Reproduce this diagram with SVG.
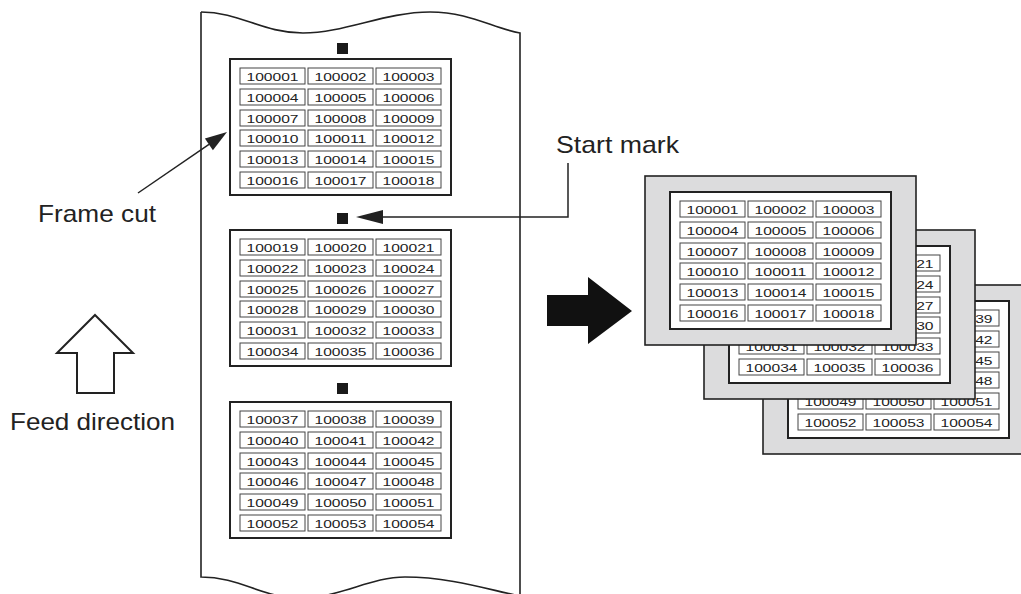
<svg xmlns="http://www.w3.org/2000/svg" xmlns:xlink="http://www.w3.org/1999/xlink" width="1021" height="594" viewBox="0 0 1021 594">
<style>
.edge{fill:none;stroke:#222;stroke-width:1.6}
.frame{fill:#fff;stroke:#222;stroke-width:2}
.sheet{fill:#dcdcdd;stroke:#222;stroke-width:1.6}
.cell{fill:#fff;stroke:#444;stroke-width:1}
.num{font-family:"Liberation Sans",Arial,sans-serif;font-size:11.5px;fill:#222;text-anchor:middle}
.lbl{font-family:"Liberation Sans",Arial,sans-serif;font-size:24px;fill:#222}
.mark{fill:#1a1a1a}
.line{fill:none;stroke:#222;stroke-width:1.5}
</style>
<defs>
<rect id="c" width="65" height="16" class="cell"/>
</defs>
<rect width="1021" height="594" fill="#fff"/>
<g id="paper">
<path d="M201,12 C240,12 262,33 303,33 C345,33 385,12 430,12 C470,12 492,28 520,33 L520,594" fill="none" class="edge"/>
<path d="M201,12 L201,577 C240,577 262,598 300,598 C340,598 370,577 405,577 C450,577 490,590 520,596" class="edge"/>
</g>
<g id="marks">
<rect class="mark" x="337" y="43" width="11" height="11"/>
<rect class="mark" x="337" y="213" width="11" height="11"/>
<rect class="mark" x="337" y="383" width="11" height="11"/>
</g>
<g id="frame1" transform="translate(230,59)">
<rect class="frame" width="221" height="136"/>
<use href="#c" x="10" y="9"/><use href="#c" x="78" y="9"/><use href="#c" x="146" y="9"/>
<use href="#c" x="10" y="30"/><use href="#c" x="78" y="30"/><use href="#c" x="146" y="30"/>
<use href="#c" x="10" y="51"/><use href="#c" x="78" y="51"/><use href="#c" x="146" y="51"/>
<use href="#c" x="10" y="71"/><use href="#c" x="78" y="71"/><use href="#c" x="146" y="71"/>
<use href="#c" x="10" y="92"/><use href="#c" x="78" y="92"/><use href="#c" x="146" y="92"/>
<use href="#c" x="10" y="113"/><use href="#c" x="78" y="113"/><use href="#c" x="146" y="113"/>
<text class="num" x="42.5" y="21.5" textLength="52" lengthAdjust="spacingAndGlyphs">100001</text><text class="num" x="110.5" y="21.5" textLength="52" lengthAdjust="spacingAndGlyphs">100002</text><text class="num" x="178.5" y="21.5" textLength="52" lengthAdjust="spacingAndGlyphs">100003</text>
<text class="num" x="42.5" y="42.5" textLength="52" lengthAdjust="spacingAndGlyphs">100004</text><text class="num" x="110.5" y="42.5" textLength="52" lengthAdjust="spacingAndGlyphs">100005</text><text class="num" x="178.5" y="42.5" textLength="52" lengthAdjust="spacingAndGlyphs">100006</text>
<text class="num" x="42.5" y="63.5" textLength="52" lengthAdjust="spacingAndGlyphs">100007</text><text class="num" x="110.5" y="63.5" textLength="52" lengthAdjust="spacingAndGlyphs">100008</text><text class="num" x="178.5" y="63.5" textLength="52" lengthAdjust="spacingAndGlyphs">100009</text>
<text class="num" x="42.5" y="83.5" textLength="52" lengthAdjust="spacingAndGlyphs">100010</text><text class="num" x="110.5" y="83.5" textLength="52" lengthAdjust="spacingAndGlyphs">100011</text><text class="num" x="178.5" y="83.5" textLength="52" lengthAdjust="spacingAndGlyphs">100012</text>
<text class="num" x="42.5" y="104.5" textLength="52" lengthAdjust="spacingAndGlyphs">100013</text><text class="num" x="110.5" y="104.5" textLength="52" lengthAdjust="spacingAndGlyphs">100014</text><text class="num" x="178.5" y="104.5" textLength="52" lengthAdjust="spacingAndGlyphs">100015</text>
<text class="num" x="42.5" y="125.5" textLength="52" lengthAdjust="spacingAndGlyphs">100016</text><text class="num" x="110.5" y="125.5" textLength="52" lengthAdjust="spacingAndGlyphs">100017</text><text class="num" x="178.5" y="125.5" textLength="52" lengthAdjust="spacingAndGlyphs">100018</text>
</g>
<g id="frame2" transform="translate(230,230)">
<rect class="frame" width="221" height="136"/>
<use href="#c" x="10" y="9"/><use href="#c" x="78" y="9"/><use href="#c" x="146" y="9"/>
<use href="#c" x="10" y="30"/><use href="#c" x="78" y="30"/><use href="#c" x="146" y="30"/>
<use href="#c" x="10" y="51"/><use href="#c" x="78" y="51"/><use href="#c" x="146" y="51"/>
<use href="#c" x="10" y="71"/><use href="#c" x="78" y="71"/><use href="#c" x="146" y="71"/>
<use href="#c" x="10" y="92"/><use href="#c" x="78" y="92"/><use href="#c" x="146" y="92"/>
<use href="#c" x="10" y="113"/><use href="#c" x="78" y="113"/><use href="#c" x="146" y="113"/>
<text class="num" x="42.5" y="21.5" textLength="52" lengthAdjust="spacingAndGlyphs">100019</text><text class="num" x="110.5" y="21.5" textLength="52" lengthAdjust="spacingAndGlyphs">100020</text><text class="num" x="178.5" y="21.5" textLength="52" lengthAdjust="spacingAndGlyphs">100021</text>
<text class="num" x="42.5" y="42.5" textLength="52" lengthAdjust="spacingAndGlyphs">100022</text><text class="num" x="110.5" y="42.5" textLength="52" lengthAdjust="spacingAndGlyphs">100023</text><text class="num" x="178.5" y="42.5" textLength="52" lengthAdjust="spacingAndGlyphs">100024</text>
<text class="num" x="42.5" y="63.5" textLength="52" lengthAdjust="spacingAndGlyphs">100025</text><text class="num" x="110.5" y="63.5" textLength="52" lengthAdjust="spacingAndGlyphs">100026</text><text class="num" x="178.5" y="63.5" textLength="52" lengthAdjust="spacingAndGlyphs">100027</text>
<text class="num" x="42.5" y="83.5" textLength="52" lengthAdjust="spacingAndGlyphs">100028</text><text class="num" x="110.5" y="83.5" textLength="52" lengthAdjust="spacingAndGlyphs">100029</text><text class="num" x="178.5" y="83.5" textLength="52" lengthAdjust="spacingAndGlyphs">100030</text>
<text class="num" x="42.5" y="104.5" textLength="52" lengthAdjust="spacingAndGlyphs">100031</text><text class="num" x="110.5" y="104.5" textLength="52" lengthAdjust="spacingAndGlyphs">100032</text><text class="num" x="178.5" y="104.5" textLength="52" lengthAdjust="spacingAndGlyphs">100033</text>
<text class="num" x="42.5" y="125.5" textLength="52" lengthAdjust="spacingAndGlyphs">100034</text><text class="num" x="110.5" y="125.5" textLength="52" lengthAdjust="spacingAndGlyphs">100035</text><text class="num" x="178.5" y="125.5" textLength="52" lengthAdjust="spacingAndGlyphs">100036</text>
</g>
<g id="frame3" transform="translate(230,402)">
<rect class="frame" width="221" height="136"/>
<use href="#c" x="10" y="9"/><use href="#c" x="78" y="9"/><use href="#c" x="146" y="9"/>
<use href="#c" x="10" y="30"/><use href="#c" x="78" y="30"/><use href="#c" x="146" y="30"/>
<use href="#c" x="10" y="51"/><use href="#c" x="78" y="51"/><use href="#c" x="146" y="51"/>
<use href="#c" x="10" y="71"/><use href="#c" x="78" y="71"/><use href="#c" x="146" y="71"/>
<use href="#c" x="10" y="92"/><use href="#c" x="78" y="92"/><use href="#c" x="146" y="92"/>
<use href="#c" x="10" y="113"/><use href="#c" x="78" y="113"/><use href="#c" x="146" y="113"/>
<text class="num" x="42.5" y="21.5" textLength="52" lengthAdjust="spacingAndGlyphs">100037</text><text class="num" x="110.5" y="21.5" textLength="52" lengthAdjust="spacingAndGlyphs">100038</text><text class="num" x="178.5" y="21.5" textLength="52" lengthAdjust="spacingAndGlyphs">100039</text>
<text class="num" x="42.5" y="42.5" textLength="52" lengthAdjust="spacingAndGlyphs">100040</text><text class="num" x="110.5" y="42.5" textLength="52" lengthAdjust="spacingAndGlyphs">100041</text><text class="num" x="178.5" y="42.5" textLength="52" lengthAdjust="spacingAndGlyphs">100042</text>
<text class="num" x="42.5" y="63.5" textLength="52" lengthAdjust="spacingAndGlyphs">100043</text><text class="num" x="110.5" y="63.5" textLength="52" lengthAdjust="spacingAndGlyphs">100044</text><text class="num" x="178.5" y="63.5" textLength="52" lengthAdjust="spacingAndGlyphs">100045</text>
<text class="num" x="42.5" y="83.5" textLength="52" lengthAdjust="spacingAndGlyphs">100046</text><text class="num" x="110.5" y="83.5" textLength="52" lengthAdjust="spacingAndGlyphs">100047</text><text class="num" x="178.5" y="83.5" textLength="52" lengthAdjust="spacingAndGlyphs">100048</text>
<text class="num" x="42.5" y="104.5" textLength="52" lengthAdjust="spacingAndGlyphs">100049</text><text class="num" x="110.5" y="104.5" textLength="52" lengthAdjust="spacingAndGlyphs">100050</text><text class="num" x="178.5" y="104.5" textLength="52" lengthAdjust="spacingAndGlyphs">100051</text>
<text class="num" x="42.5" y="125.5" textLength="52" lengthAdjust="spacingAndGlyphs">100052</text><text class="num" x="110.5" y="125.5" textLength="52" lengthAdjust="spacingAndGlyphs">100053</text><text class="num" x="178.5" y="125.5" textLength="52" lengthAdjust="spacingAndGlyphs">100054</text>
</g>
<g id="sheet3" transform="translate(788,301)">
<rect class="sheet" x="-25" y="-16" width="271" height="169"/>
<rect class="frame" width="221" height="137"/>
<use href="#c" x="10" y="9"/><use href="#c" x="78" y="9"/><use href="#c" x="146" y="9"/>
<use href="#c" x="10" y="30"/><use href="#c" x="78" y="30"/><use href="#c" x="146" y="30"/>
<use href="#c" x="10" y="51"/><use href="#c" x="78" y="51"/><use href="#c" x="146" y="51"/>
<use href="#c" x="10" y="71"/><use href="#c" x="78" y="71"/><use href="#c" x="146" y="71"/>
<use href="#c" x="10" y="92"/><use href="#c" x="78" y="92"/><use href="#c" x="146" y="92"/>
<use href="#c" x="10" y="113"/><use href="#c" x="78" y="113"/><use href="#c" x="146" y="113"/>
<text class="num" x="42.5" y="21.5" textLength="52" lengthAdjust="spacingAndGlyphs">100037</text><text class="num" x="110.5" y="21.5" textLength="52" lengthAdjust="spacingAndGlyphs">100038</text><text class="num" x="178.5" y="21.5" textLength="52" lengthAdjust="spacingAndGlyphs">100039</text>
<text class="num" x="42.5" y="42.5" textLength="52" lengthAdjust="spacingAndGlyphs">100040</text><text class="num" x="110.5" y="42.5" textLength="52" lengthAdjust="spacingAndGlyphs">100041</text><text class="num" x="178.5" y="42.5" textLength="52" lengthAdjust="spacingAndGlyphs">100042</text>
<text class="num" x="42.5" y="63.5" textLength="52" lengthAdjust="spacingAndGlyphs">100043</text><text class="num" x="110.5" y="63.5" textLength="52" lengthAdjust="spacingAndGlyphs">100044</text><text class="num" x="178.5" y="63.5" textLength="52" lengthAdjust="spacingAndGlyphs">100045</text>
<text class="num" x="42.5" y="83.5" textLength="52" lengthAdjust="spacingAndGlyphs">100046</text><text class="num" x="110.5" y="83.5" textLength="52" lengthAdjust="spacingAndGlyphs">100047</text><text class="num" x="178.5" y="83.5" textLength="52" lengthAdjust="spacingAndGlyphs">100048</text>
<text class="num" x="42.5" y="104.5" textLength="52" lengthAdjust="spacingAndGlyphs">100049</text><text class="num" x="110.5" y="104.5" textLength="52" lengthAdjust="spacingAndGlyphs">100050</text><text class="num" x="178.5" y="104.5" textLength="52" lengthAdjust="spacingAndGlyphs">100051</text>
<text class="num" x="42.5" y="125.5" textLength="52" lengthAdjust="spacingAndGlyphs">100052</text><text class="num" x="110.5" y="125.5" textLength="52" lengthAdjust="spacingAndGlyphs">100053</text><text class="num" x="178.5" y="125.5" textLength="52" lengthAdjust="spacingAndGlyphs">100054</text>
</g>
<g id="sheet2" transform="translate(729,246)">
<rect class="sheet" x="-25" y="-16" width="271" height="169"/>
<rect class="frame" width="221" height="137"/>
<use href="#c" x="10" y="9"/><use href="#c" x="78" y="9"/><use href="#c" x="146" y="9"/>
<use href="#c" x="10" y="30"/><use href="#c" x="78" y="30"/><use href="#c" x="146" y="30"/>
<use href="#c" x="10" y="51"/><use href="#c" x="78" y="51"/><use href="#c" x="146" y="51"/>
<use href="#c" x="10" y="71"/><use href="#c" x="78" y="71"/><use href="#c" x="146" y="71"/>
<use href="#c" x="10" y="92"/><use href="#c" x="78" y="92"/><use href="#c" x="146" y="92"/>
<use href="#c" x="10" y="113"/><use href="#c" x="78" y="113"/><use href="#c" x="146" y="113"/>
<text class="num" x="42.5" y="21.5" textLength="52" lengthAdjust="spacingAndGlyphs">100019</text><text class="num" x="110.5" y="21.5" textLength="52" lengthAdjust="spacingAndGlyphs">100020</text><text class="num" x="178.5" y="21.5" textLength="52" lengthAdjust="spacingAndGlyphs">100021</text>
<text class="num" x="42.5" y="42.5" textLength="52" lengthAdjust="spacingAndGlyphs">100022</text><text class="num" x="110.5" y="42.5" textLength="52" lengthAdjust="spacingAndGlyphs">100023</text><text class="num" x="178.5" y="42.5" textLength="52" lengthAdjust="spacingAndGlyphs">100024</text>
<text class="num" x="42.5" y="63.5" textLength="52" lengthAdjust="spacingAndGlyphs">100025</text><text class="num" x="110.5" y="63.5" textLength="52" lengthAdjust="spacingAndGlyphs">100026</text><text class="num" x="178.5" y="63.5" textLength="52" lengthAdjust="spacingAndGlyphs">100027</text>
<text class="num" x="42.5" y="83.5" textLength="52" lengthAdjust="spacingAndGlyphs">100028</text><text class="num" x="110.5" y="83.5" textLength="52" lengthAdjust="spacingAndGlyphs">100029</text><text class="num" x="178.5" y="83.5" textLength="52" lengthAdjust="spacingAndGlyphs">100030</text>
<text class="num" x="42.5" y="104.5" textLength="52" lengthAdjust="spacingAndGlyphs">100031</text><text class="num" x="110.5" y="104.5" textLength="52" lengthAdjust="spacingAndGlyphs">100032</text><text class="num" x="178.5" y="104.5" textLength="52" lengthAdjust="spacingAndGlyphs">100033</text>
<text class="num" x="42.5" y="125.5" textLength="52" lengthAdjust="spacingAndGlyphs">100034</text><text class="num" x="110.5" y="125.5" textLength="52" lengthAdjust="spacingAndGlyphs">100035</text><text class="num" x="178.5" y="125.5" textLength="52" lengthAdjust="spacingAndGlyphs">100036</text>
</g>
<g id="sheet1" transform="translate(670,192)">
<rect class="sheet" x="-25" y="-16" width="271" height="169"/>
<rect class="frame" width="221" height="137"/>
<use href="#c" x="10" y="9"/><use href="#c" x="78" y="9"/><use href="#c" x="146" y="9"/>
<use href="#c" x="10" y="30"/><use href="#c" x="78" y="30"/><use href="#c" x="146" y="30"/>
<use href="#c" x="10" y="51"/><use href="#c" x="78" y="51"/><use href="#c" x="146" y="51"/>
<use href="#c" x="10" y="71"/><use href="#c" x="78" y="71"/><use href="#c" x="146" y="71"/>
<use href="#c" x="10" y="92"/><use href="#c" x="78" y="92"/><use href="#c" x="146" y="92"/>
<use href="#c" x="10" y="113"/><use href="#c" x="78" y="113"/><use href="#c" x="146" y="113"/>
<text class="num" x="42.5" y="21.5" textLength="52" lengthAdjust="spacingAndGlyphs">100001</text><text class="num" x="110.5" y="21.5" textLength="52" lengthAdjust="spacingAndGlyphs">100002</text><text class="num" x="178.5" y="21.5" textLength="52" lengthAdjust="spacingAndGlyphs">100003</text>
<text class="num" x="42.5" y="42.5" textLength="52" lengthAdjust="spacingAndGlyphs">100004</text><text class="num" x="110.5" y="42.5" textLength="52" lengthAdjust="spacingAndGlyphs">100005</text><text class="num" x="178.5" y="42.5" textLength="52" lengthAdjust="spacingAndGlyphs">100006</text>
<text class="num" x="42.5" y="63.5" textLength="52" lengthAdjust="spacingAndGlyphs">100007</text><text class="num" x="110.5" y="63.5" textLength="52" lengthAdjust="spacingAndGlyphs">100008</text><text class="num" x="178.5" y="63.5" textLength="52" lengthAdjust="spacingAndGlyphs">100009</text>
<text class="num" x="42.5" y="83.5" textLength="52" lengthAdjust="spacingAndGlyphs">100010</text><text class="num" x="110.5" y="83.5" textLength="52" lengthAdjust="spacingAndGlyphs">100011</text><text class="num" x="178.5" y="83.5" textLength="52" lengthAdjust="spacingAndGlyphs">100012</text>
<text class="num" x="42.5" y="104.5" textLength="52" lengthAdjust="spacingAndGlyphs">100013</text><text class="num" x="110.5" y="104.5" textLength="52" lengthAdjust="spacingAndGlyphs">100014</text><text class="num" x="178.5" y="104.5" textLength="52" lengthAdjust="spacingAndGlyphs">100015</text>
<text class="num" x="42.5" y="125.5" textLength="52" lengthAdjust="spacingAndGlyphs">100016</text><text class="num" x="110.5" y="125.5" textLength="52" lengthAdjust="spacingAndGlyphs">100017</text><text class="num" x="178.5" y="125.5" textLength="52" lengthAdjust="spacingAndGlyphs">100018</text>
</g>
<g id="connectors">
<line class="line" x1="138" y1="193" x2="209" y2="144.4"/>
<polygon fill="#222" points="227,132 204.9,138.6 212.9,150.2"/>
<polyline class="line" points="568,163 568,217 382,217"/>
<polygon fill="#222" points="356,217 383,210 383,224"/>
<polygon id="feed-arrow" fill="#fff" stroke="#222" stroke-width="2" points="95,315 133,353 114,353 114,393 77,393 77,353 57,353"/>
<polygon id="big-arrow" fill="#111" points="547,295 588,295 588,277 632,311 588,344 588,326 547,326"/>
</g>
<g id="labels">
<text class="lbl" x="38" y="222" textLength="118" lengthAdjust="spacingAndGlyphs">Frame cut</text>
<text class="lbl" x="556" y="153" textLength="123" lengthAdjust="spacingAndGlyphs">Start mark</text>
<text class="lbl" x="10" y="430" textLength="165" lengthAdjust="spacingAndGlyphs">Feed direction</text>
</g>
</svg>
